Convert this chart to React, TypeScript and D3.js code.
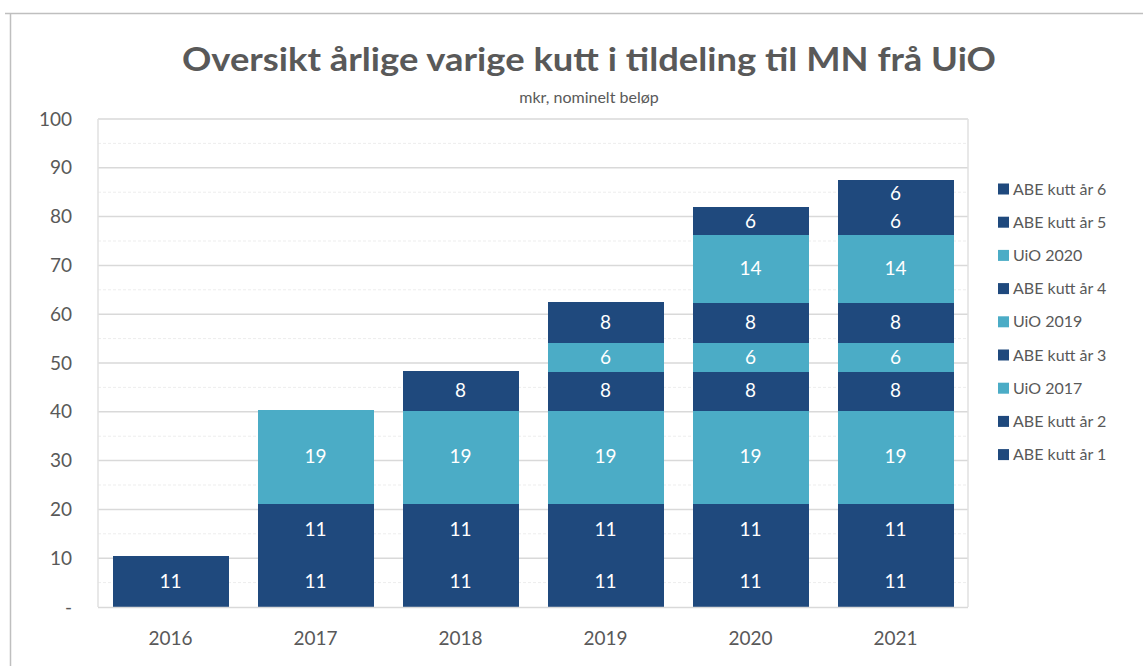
import React, { useEffect, useRef } from "react";
import * as d3 from "d3";

const years = ["2016", "2017", "2018", "2019", "2020", "2021"];
const seriesNames = [
  "ABE kutt år 1",
  "ABE kutt år 2",
  "UiO 2017",
  "ABE kutt år 3",
  "UiO 2019",
  "ABE kutt år 4",
  "UiO 2020",
  "ABE kutt år 5",
  "ABE kutt år 6",
];
const abe1 = [10.5, 10.6, 10.6, 10.6, 10.6, 10.6];
const abe2 = [0, 10.7, 10.7, 10.7, 10.7, 10.7];
const uio2017 = [0, 19.0, 19.0, 19.0, 19.0, 19.0];
const abe3 = [0, 0, 8.0, 8.0, 8.0, 8.0];
const uio2019 = [0, 0, 0, 5.8, 5.8, 5.8];
const abe4 = [0, 0, 0, 8.4, 8.4, 8.4];
const uio2020 = [0, 0, 0, 0, 13.8, 13.8];
const abe5 = [0, 0, 0, 0, 5.6, 5.6];
const abe6 = [0, 0, 0, 0, 0, 5.6];
const seriesValues = [abe1, abe2, uio2017, abe3, uio2019, abe4, uio2020, abe5, abe6];
const seriesKinds = ["abe", "abe", "uio", "abe", "uio", "abe", "uio", "abe", "abe"];
const yTicks = [0, 10, 20, 30, 40, 50, 60, 70, 80, 90, 100];

const DARK = "#1F497D";
const LIGHT = "#4BACC6";
const TEXT = "#595959";
const FONT = "Lato, 'Open Sans', sans-serif";

export default function App() {
  const ref = useRef<SVGSVGElement>(null);

  useEffect(() => {
    document.body.style.margin = "0";
    const svg = d3.select(ref.current);
    svg.selectAll("*").remove();

    const W = 1143, H = 666;
    const left = 98, right = 968, top = 119, bottom = 607;

    svg.append("rect").attr("width", W).attr("height", H).attr("fill", "#fff");
    // outer chart frame
    svg.append("line").attr("x1", 5).attr("x2", W).attr("y1", 13.5).attr("y2", 13.5)
      .attr("stroke", "#BFBFBF").attr("stroke-width", 1.5);
    svg.append("line").attr("x1", 10.5).attr("x2", 10.5).attr("y1", 13).attr("y2", H)
      .attr("stroke", "#BFBFBF").attr("stroke-width", 1.5);

    const x = d3.scaleBand().domain(years).range([left, right]).paddingInner(0.2).paddingOuter(0.1);
    const y = d3.scaleLinear().domain([0, 100]).range([bottom, top]);

    // minor gridlines
    const minor = d3.range(5, 100, 10);
    svg.append("g").selectAll("line").data(minor).join("line")
      .attr("x1", left).attr("x2", right)
      .attr("y1", (d) => y(d)).attr("y2", (d) => y(d))
      .attr("stroke", "#EDEDED").attr("stroke-width", 1).attr("stroke-dasharray", "3,2");
    // major gridlines
    svg.append("g").selectAll("line").data(yTicks.filter((t) => t > 0)).join("line")
      .attr("x1", left).attr("x2", right)
      .attr("y1", (d) => y(d)).attr("y2", (d) => y(d))
      .attr("stroke", "#D9D9D9").attr("stroke-width", 1.5);
    // plot area border
    svg.append("line").attr("x1", left).attr("x2", left).attr("y1", top).attr("y2", bottom)
      .attr("stroke", "#E0E0E0").attr("stroke-width", 1.5);
    svg.append("line").attr("x1", right).attr("x2", right).attr("y1", top).attr("y2", bottom)
      .attr("stroke", "#E0E0E0").attr("stroke-width", 1.5);

    // stacked data
    const table = years.map((yr, i) => {
      const row: any = { year: yr };
      seriesNames.forEach((s, j) => (row[s] = seriesValues[j][i]));
      return row;
    });
    const stack = d3.stack().keys(seriesNames)(table as any);

    const fmt = d3.format(".0f");
    const rectG = svg.append("g").attr("shape-rendering", "crispEdges");
    const labelG = svg.append("g");
    stack.forEach((layer, j) => {
      const color = seriesKinds[j] === "abe" ? DARK : LIGHT;
      layer.forEach((seg: any, i: number) => {
        const v = seriesValues[j][i];
        if (!v) return;
        const y0 = y(seg[0]), y1 = y(seg[1]);
        const bx = x(years[i])!;
        rectG.append("rect")
          .attr("x", bx).attr("y", y1)
          .attr("width", x.bandwidth()).attr("height", y0 - y1 + 0.5)
          .attr("fill", color);
        labelG.append("text")
          .attr("x", bx + x.bandwidth() / 2)
          .attr("y", (y0 + y1) / 2)
          .attr("dy", "0.35em")
          .attr("text-anchor", "middle")
          .attr("fill", "#fff")
          .attr("font-family", FONT)
          .attr("font-size", 19)
          .text(fmt(v));
      });
    });

    // axis baseline
    svg.append("line").attr("x1", left).attr("x2", right).attr("y1", bottom + 0.5).attr("y2", bottom + 0.5)
      .attr("stroke", "#D9D9D9").attr("stroke-width", 1.5);

    // y tick labels
    svg.append("g").selectAll("text").data(yTicks).join("text")
      .attr("x", 72).attr("y", (d) => y(d)).attr("dy", "0.35em")
      .attr("text-anchor", "end").attr("fill", TEXT)
      .attr("font-family", FONT).attr("font-size", 19)
      .text((d) => (d === 0 ? "-" : String(d)));

    // x tick labels
    svg.append("g").selectAll("text").data(years).join("text")
      .attr("x", (d) => x(d)! + x.bandwidth() / 2).attr("y", 638).attr("dy", "0.35em")
      .attr("text-anchor", "middle").attr("fill", TEXT)
      .attr("font-family", FONT).attr("font-size", 19)
      .text((d) => d);

    // title
    svg.append("text").attr("x", 589).attr("y", 60).attr("dy", "0.35em")
      .attr("text-anchor", "middle").attr("fill", TEXT)
      .attr("font-family", FONT).attr("font-weight", "bold").attr("font-size", 32)
      .attr("textLength", 814).attr("lengthAdjust", "spacingAndGlyphs")
      .text("Oversikt årlige varige kutt i tildeling til MN frå UiO");
    svg.append("text").attr("x", 589).attr("y", 97).attr("dy", "0.35em")
      .attr("text-anchor", "middle").attr("fill", TEXT)
      .attr("font-family", FONT).attr("font-size", 16)
      .text("mkr, nominelt beløp");

    // legend (reversed order, top = last series)
    const legendItems = seriesNames.map((n, j) => ({ n, kind: seriesKinds[j] })).reverse();
    const lg = svg.append("g");
    legendItems.forEach((it, k) => {
      const cy = 189 + k * 33.2;
      lg.append("rect").attr("x", 998).attr("y", cy - 5.5).attr("width", 11).attr("height", 11)
        .attr("fill", it.kind === "abe" ? DARK : LIGHT);
      lg.append("text").attr("x", 1013).attr("y", cy).attr("dy", "0.35em")
        .attr("fill", TEXT).attr("font-family", FONT).attr("font-size", 16)
        .text(it.n);
    });
  }, []);

  return <svg ref={ref} width={1143} height={666} style={{ display: "block" }} />;
}
